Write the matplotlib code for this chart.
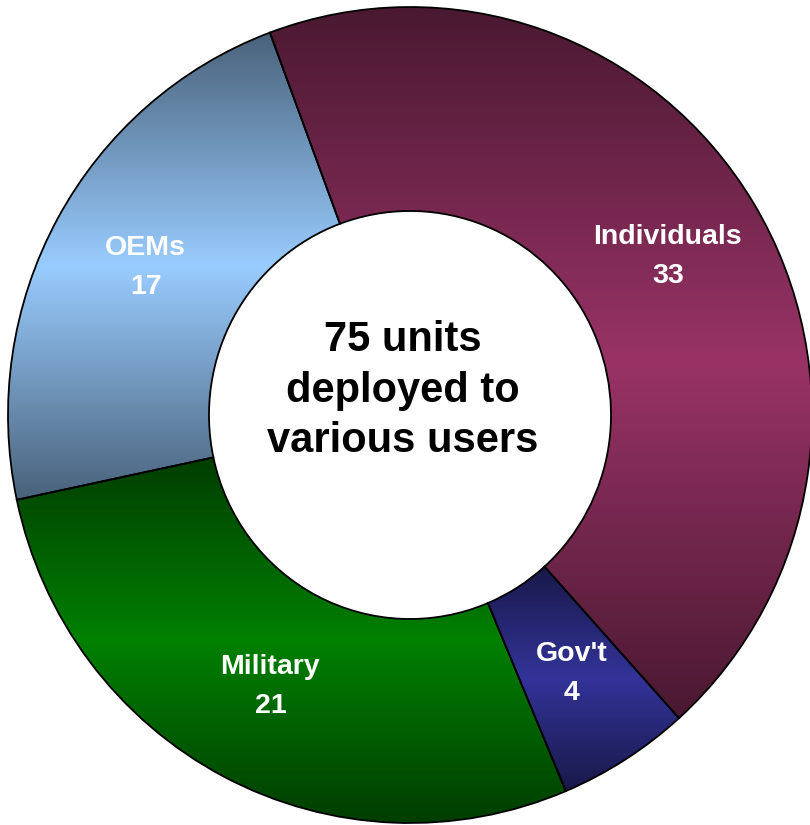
import numpy as np
from matplotlib import pyplot as plt
from matplotlib.colors import to_rgb

labels = ["Individuals", "Gov't", "Military", "OEMs"]
values = [33, 4, 21, 17]
colors = ["#993366", "#333399", "#008000", "#99ccff"]
center_text = "75 units\ndeployed to\nvarious users"

plt.rcParams["font.family"] = ["Liberation Sans", "DejaVu Sans"]

fig = plt.figure(figsize=(8.1, 8.25), dpi=100)
ax = fig.add_axes([0, 0, 1, 1])
ax.set_axis_off()

wedges, _ = ax.pie(values, colors=colors, startangle=110.4, counterclock=False,
                   radius=1.0,
                   wedgeprops=dict(width=0.5, edgecolor="black", linewidth=1.3))

# vertical gradient inside each wedge: dark at top and bottom, light in the middle
for w, c in zip(wedges, colors):
    light = np.array(to_rgb(c))
    dark = light * 0.48
    ext = w.get_path().get_extents()
    t = np.linspace(0, 1, 256)
    f = 1 - np.abs(2 * t - 1)
    grad = dark[None, :] + (light - dark)[None, :] * f[:, None]
    img = ax.imshow(grad[:, None, :], extent=(ext.x0, ext.x1, ext.y0, ext.y1),
                    aspect="auto", origin="lower", interpolation="bilinear", zorder=1)
    img.set_clip_path(w)
    w.set_facecolor("none")
    w.set_zorder(2)

# labels inside each ring segment
total = sum(values)
ang = 110.4
for lab, v in zip(labels, values):
    span = v / total * 360
    mid = np.deg2rad(ang - span / 2)
    ang -= span
    r = 0.75
    ax.text(r * np.cos(mid), r * np.sin(mid), "%s\n%d" % (lab, v), ha="center", va="center",
            color="white", fontsize=20.5, fontweight="bold", linespacing=1.65, zorder=3)

ax.text(-0.018, 0.06, center_text, ha="center", va="center", fontsize=30,
        fontweight="bold", linespacing=1.33, zorder=3)

# slightly taller than wide, as in the original
ax.set_xlim(-410 / 402, 400 / 402)
ax.set_ylim(-410 / 408, 415 / 408)
ax.set_aspect("auto")

plt.savefig("out.png", dpi=100)
